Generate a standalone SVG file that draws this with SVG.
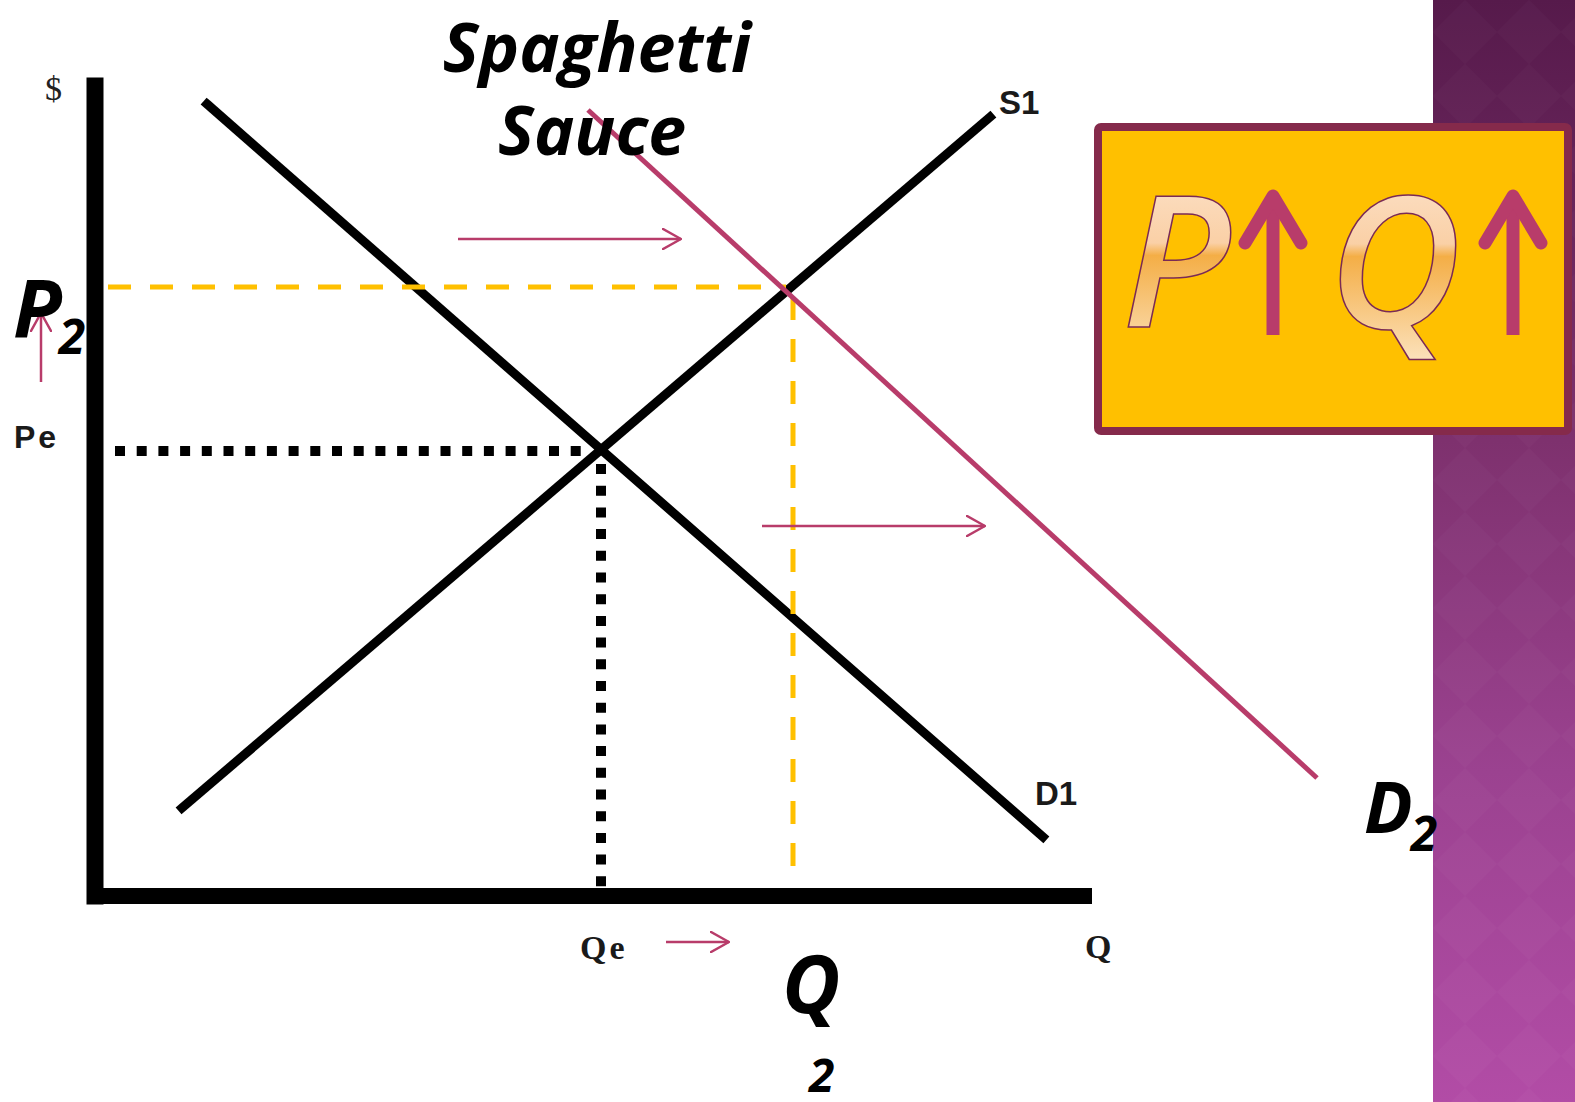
<svg xmlns="http://www.w3.org/2000/svg" width="1575" height="1102" viewBox="0 0 1575 1102">
<defs>
<linearGradient id="bar" x1="0" y1="0" x2="0" y2="1">
<stop offset="0" stop-color="#561a4b"/>
<stop offset="0.4" stop-color="#7e316e"/>
<stop offset="0.7" stop-color="#9b4290"/>
<stop offset="1" stop-color="#b24ca6"/>
</linearGradient>
<pattern id="dia" width="64" height="64" patternUnits="userSpaceOnUse" x="1433">
<path d="M32 0 L64 32 L32 64 L0 32 Z" fill="#ffffff" fill-opacity="0.02"/>
</pattern>
<linearGradient id="glow" x1="0" y1="0" x2="0" y2="1">
<stop offset="0" stop-color="#fdeada"/>
<stop offset="0.45" stop-color="#fad0a6"/>
<stop offset="0.5" stop-color="#f4ae46"/>
<stop offset="1" stop-color="#fdecd4"/>
</linearGradient>
<marker id="arr" viewBox="0 0 20 22" refX="19" refY="11" markerWidth="20" markerHeight="22" markerUnits="userSpaceOnUse" orient="auto">
<path d="M1 1 L19 11 L1 21" fill="none" stroke="#b83c6a" stroke-width="2.5" stroke-linecap="round"/>
</marker>
</defs>
<style>
.curve{stroke:#000;stroke-width:9;fill:none;stroke-linecap:square}
.axis{stroke:#000;fill:none;stroke-linecap:square}
.dot{stroke:#000;stroke-width:10;stroke-dasharray:10 11.7;fill:none}
.dash{stroke:#ffc000;stroke-width:5;stroke-dasharray:23 19;fill:none}
.shift{stroke:#b83c6a;stroke-width:2.5;fill:none;marker-end:url(#arr)}
.big{font-family:"Open Sans","DejaVu Sans",sans-serif;font-style:italic;font-weight:700;fill:#000}
.lab{font-family:"Liberation Sans",Arial,sans-serif;font-weight:700;fill:#1a1a1a}
.ser{font-family:"Liberation Serif","Times New Roman",serif;font-weight:700;fill:#1a1a1a}
.up{stroke:#b83c6a;stroke-width:13;fill:none;stroke-linecap:round;stroke-linejoin:round}
.shaft{stroke:#b83c6a;stroke-width:13;fill:none;stroke-linecap:butt}
.boxt{font-family:"Open Sans","DejaVu Sans",sans-serif;font-style:italic;font-weight:600;font-size:184px;fill:url(#glow);stroke:#7a2a55;stroke-width:1.5}
</style>
<rect x="0" y="0" width="1575" height="1102" fill="#ffffff"/>
<g id="sidebar">
<rect x="1433" y="0" width="142" height="1102" fill="url(#bar)"/>
<rect x="1433" y="0" width="142" height="1102" fill="url(#dia)"/>
</g>
<g id="axes">
<line class="axis" x1="95" y1="86" x2="95" y2="896" stroke-width="17"/>
<line class="axis" x1="95" y1="896" x2="1084" y2="896" stroke-width="16"/>
</g>
<g id="connectors">
<line class="dot" x1="115" y1="451" x2="592" y2="451"/>
<line class="dot" x1="601" y1="464" x2="601" y2="890"/>
<line class="curve" x1="182" y1="808" x2="990" y2="117"/>
<line class="curve" x1="207" y1="104" x2="1043" y2="837"/>
<line class="dash" x1="108" y1="287" x2="786" y2="287"/>
<line class="dash" x1="793" y1="297" x2="793" y2="872"/>
<line x1="588" y1="110" x2="1317" y2="778" stroke="#b83c6a" stroke-width="5"/>
<line class="shift" x1="458" y1="239" x2="681" y2="239"/>
<line class="shift" x1="762" y1="526" x2="985" y2="526"/>
<line class="shift" x1="666" y1="942" x2="729" y2="942"/>
<line class="shift" x1="41" y1="382" x2="41" y2="313"/>
</g>
<g id="title">
<text class="big" x="597" y="72" font-size="68" text-anchor="middle">Spaghetti</text>
<text class="big" x="592" y="155" font-size="68" text-anchor="middle">Sauce</text>
</g>
<g id="axis-labels">
<text x="45" y="100" font-family="Liberation Serif,serif" font-size="34" fill="#222">$</text>
<text class="lab" x="14" y="448" font-size="32" letter-spacing="3">Pe</text>
<text class="lab" x="999" y="114" font-size="33">S1</text>
<text class="lab" x="1035" y="805" font-size="33">D1</text>
<text class="ser" x="580" y="959" font-size="34" letter-spacing="3">Qe</text>
<text class="ser" x="1085" y="958" font-size="34">Q</text>
</g>
<g id="label-p2"><text class="big" x="13" y="338" font-size="80">P<tspan font-size="48" dy="16" dx="-3">2</tspan></text></g>
<g id="label-d2"><text class="big" x="1364" y="833" font-size="72">D<tspan font-size="48" dy="18" dx="-2">2</tspan></text></g>
<g id="label-q2">
<text class="big" x="782" y="1013" font-size="80">Q</text>
<text class="big" x="809" y="1092" font-size="46">2</text>
</g>
<g id="pq-box">
<rect x="1098" y="127" width="470" height="304" rx="3" fill="#ffc000" stroke="#852a4b" stroke-width="8"/>
<text class="boxt" x="1122" y="327">P</text>
<path class="shaft" d="M1273 335 L1273 205"/>
<path class="up" d="M1245 243 L1273 196 L1301 243"/>
<text class="boxt" x="1328" y="328">Q</text>
<path class="shaft" d="M1513 335 L1513 205"/>
<path class="up" d="M1485 243 L1513 196 L1541 243"/>
</g>
</svg>
